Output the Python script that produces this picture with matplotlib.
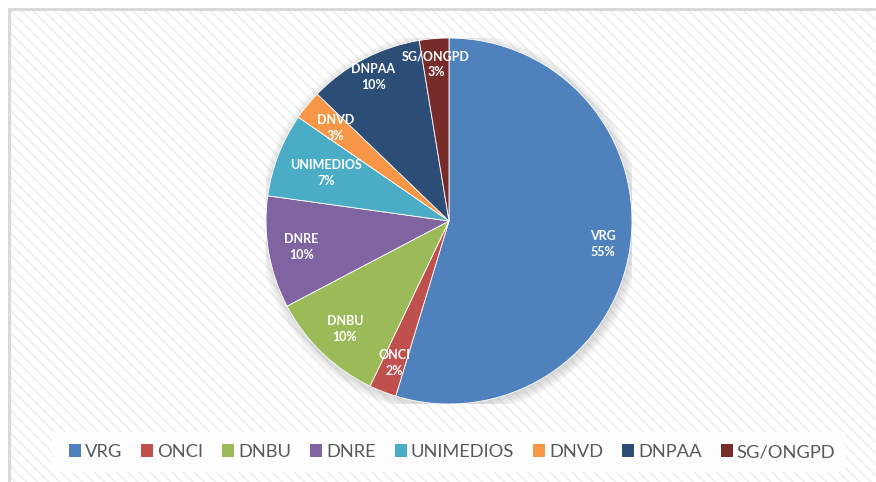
import matplotlib.pyplot as plt
import numpy as np
from matplotlib.patches import Rectangle, Circle

labels = ["VRG", "ONCI", "DNBU", "DNRE", "UNIMEDIOS", "DNVD", "DNPAA", "SG/ONGPD"]
shares = [54.7, 2.4, 10.2, 9.9, 7.4, 2.6, 10.2, 2.6]
colors = ["#4F81BD", "#C0504D", "#9BBB59", "#8064A2",
          "#4BACC6", "#F79646", "#2C4D75", "#772C2A"]

W, H = 876, 482
plt.rcParams["hatch.linewidth"] = 1.6
fig = plt.figure(figsize=(W / 100, H / 100), dpi=100)
fig.patch.set_facecolor("white")

# hatched chart area with light border
bg = Rectangle((9 / W, 0), 1, 1 - 9 / H, transform=fig.transFigure,
               facecolor="white", edgecolor="#f1f1f1", hatch="\\\\\\",
               linewidth=0, zorder=0)
fig.patches.append(bg)
border = Rectangle((9 / W, -0.01), 1, 1 - 9 / H + 0.01, transform=fig.transFigure,
                   facecolor="none", edgecolor="#d9d9d9", linewidth=2.2, zorder=1)
fig.patches.append(border)
legbox = Rectangle((52 / W, 1 - 472 / H), (845 - 52) / W, 40 / H,
                   transform=fig.transFigure, facecolor="#fdfdfd",
                   edgecolor="none", zorder=1)
fig.patches.append(legbox)

cx, cy, r = 449, 221, 183
ax = fig.add_axes([(cx - r) / W, (H - cy - r) / H, 2 * r / W, 2 * r / H])
ax.set_zorder(3)
ax.patch.set_visible(False)

# soft shadow under the pie
for i in range(7):
    ax.add_patch(Circle((0.008, -0.014), 1.0 + 0.008 * i, facecolor="#7f7f7f",
                        alpha=0.045, edgecolor="none", zorder=0))

wedges, _ = ax.pie(shares, colors=colors, startangle=90, counterclock=False,
                   radius=1, center=(0, 0), frame=True,
                   wedgeprops=dict(edgecolor="white", linewidth=0.6))
ax.set_xlim(-1, 1)
ax.set_ylim(-1, 1)
ax.set_aspect("equal")
ax.axis("off")

dist = [0.85, 0.83, 0.82, 0.82, 0.72, 0.80, 0.89, 0.86]
for w, lab, val, d in zip(wedges, labels, shares, dist):
    ang = np.deg2rad((w.theta1 + w.theta2) / 2)
    ax.text(d * np.cos(ang), d * np.sin(ang), f"{lab}\n{round(val):.0f}%",
            ha="center", va="center", color="white", fontsize=9,
            fontweight="bold", family=["Lato", "DejaVu Sans"], linespacing=1.4)

handles = [Rectangle((0, 0), 1, 1, facecolor=c, edgecolor="none") for c in colors]
leg = fig.legend(handles, labels, loc="center",
                 bbox_to_anchor=(452 / W, 1 - 452 / H),
                 ncol=8, frameon=False, handlelength=0.66,
                 handleheight=0.66, handletextpad=0.22, columnspacing=1.03,
                 prop=dict(family=["Lato", "DejaVu Sans"], size=13.2),
                 labelcolor="#595959")
leg.set_zorder(5)

fig.savefig("out.png", dpi=100)
